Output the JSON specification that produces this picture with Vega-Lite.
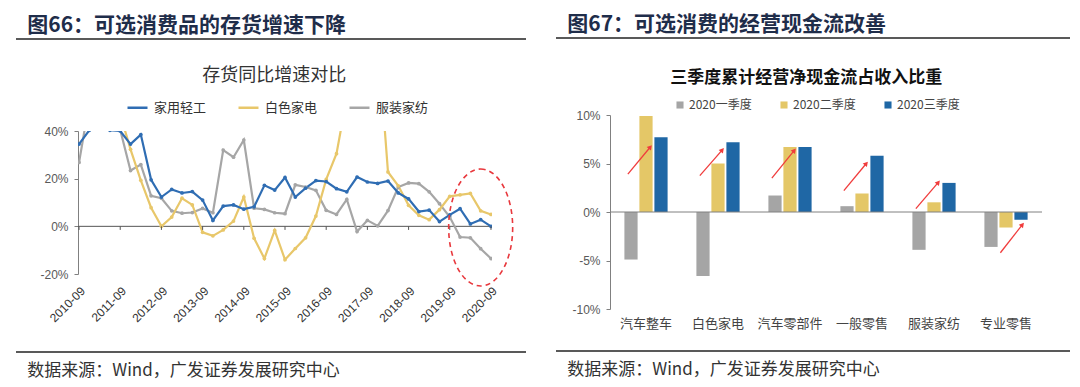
{
  "$schema": "https://vega.github.io/schema/vega-lite/v6.json",
  "background": "white",
  "padding": {"left": 15, "top": 14, "right": 5, "bottom": 0},
  "spacing": 28,
  "resolve": {"scale": {"color": "independent"}, "legend": {"color": "independent"}},
  "config": {
    "view": {"stroke": null},
    "axis": {"labelFont": "Liberation Sans", "labelColor": "#595959", "labelFontSize": 12, "domainColor": "#808080", "tickColor": "#808080", "tickSize": 4, "grid": false},
    "title": {"font": "Noto Sans CJK SC"}
  },
  "hconcat": [
    {
      "spacing": 27,
      "resolve": {"scale": {"color": "independent"}, "legend": {"color": "independent"}},
      "vconcat": [
        {
          "width": 510, "height": 1,
          "title": {"text": "图66：可选消费品的存货增速下降", "anchor": "start", "fontSize": 21, "fontWeight": "bold", "color": "#1f2d4a", "dx": 12, "offset": 2},
          "data": {"values": [{}]},
          "mark": {"type": "rule", "color": "#222", "strokeWidth": 1.5},
          "encoding": {"y": {"datum": 0, "type": "quantitative", "scale": {"domain": [0, 1]}, "axis": null}}
        },
        {
          "spacing": 0,
          "resolve": {"scale": {"color": "independent"}, "legend": {"color": "independent"}},
          "hconcat": [
            {
              "width": 16, "height": 1,
              "data": {"values": []},
              "mark": {"type": "point"},
              "encoding": {}
            },
            {
              "width": 414, "height": 143,
              "title": {"text": "存货同比增速对比", "fontSize": 18, "fontWeight": "normal", "color": "#333", "anchor": "middle", "frame": "bounds", "offset": 11},
              "data": {"values": [
                {"d": "2010-09", "家用轻工": 34.5, "白色家电": 60, "服装家纺": 26.8},
                {"d": "2010-12", "家用轻工": 40.3, "白色家电": 65, "服装家纺": 52},
                {"d": "2011-03", "家用轻工": 48, "白色家电": 62, "服装家纺": 55},
                {"d": "2011-06", "家用轻工": 40.3, "白色家电": 55, "服装家纺": 50},
                {"d": "2011-09", "家用轻工": 40, "白色家电": 47, "服装家纺": 40.5},
                {"d": "2011-12", "家用轻工": 34.5, "白色家电": 32.3, "服装家纺": 23.4},
                {"d": "2012-03", "家用轻工": 38.5, "白色家电": 19.3, "服装家纺": 25.9},
                {"d": "2012-06", "家用轻工": 19.5, "白色家电": 7.8, "服装家纺": 12.8},
                {"d": "2012-09", "家用轻工": 12.3, "白色家电": 0, "服装家纺": 11.8},
                {"d": "2012-12", "家用轻工": 15.5, "白色家电": 3.9, "服装家纺": 6.5},
                {"d": "2013-03", "家用轻工": 14, "白色家电": 11.8, "服装家纺": 5.5},
                {"d": "2013-06", "家用轻工": 14.6, "白色家电": 9, "服装家纺": 5.8},
                {"d": "2013-09", "家用轻工": 11, "白色家电": -2.5, "服装家纺": 7.5},
                {"d": "2013-12", "家用轻工": 2.5, "白色家电": -4, "服装家纺": 5.7},
                {"d": "2014-03", "家用轻工": 8.5, "白色家电": -1.5, "服装家纺": 32},
                {"d": "2014-06", "家用轻工": 9, "白色家电": 2.2, "服装家纺": 29},
                {"d": "2014-09", "家用轻工": 7.2, "白色家电": 12.3, "服装家纺": 36.2},
                {"d": "2014-12", "家用轻工": 8.2, "白色家电": -5, "服装家纺": 7.6},
                {"d": "2015-03", "家用轻工": 17.2, "白色家电": -13.5, "服装家纺": 7.1},
                {"d": "2015-06", "家用轻工": 15.2, "白色家电": -1.7, "服装家纺": 5.7},
                {"d": "2015-09", "家用轻工": 20.5, "白色家电": -14, "服装家纺": 5.3},
                {"d": "2015-12", "家用轻工": 12.3, "白色家电": -9.3, "服装家纺": 17.4},
                {"d": "2016-03", "家用轻工": 16, "白色家电": -4.8, "服装家纺": 16.5},
                {"d": "2016-06", "家用轻工": 19.2, "白色家电": 4.3, "服装家纺": 15.1},
                {"d": "2016-09", "家用轻工": 18.8, "白色家电": 19.7, "服装家纺": 6.7},
                {"d": "2016-12", "家用轻工": 15.8, "白色家电": 30.5, "服装家纺": 5},
                {"d": "2017-03", "家用轻工": 14.5, "白色家电": 54, "服装家纺": 11.3},
                {"d": "2017-06", "家用轻工": 20.7, "白色家电": 90, "服装家纺": -2.2},
                {"d": "2017-09", "家用轻工": 18.6, "白色家电": 100, "服装家纺": 2.5},
                {"d": "2017-12", "家用轻工": 18, "白色家电": 80, "服装家纺": 0.2},
                {"d": "2018-03", "家用轻工": 19, "白色家电": 22.8, "服装家纺": 6.6},
                {"d": "2018-06", "家用轻工": 14, "白色家电": 17, "服装家纺": 16.5},
                {"d": "2018-09", "家用轻工": 11.5, "白色家电": 8.8, "服装家纺": 18.2},
                {"d": "2018-12", "家用轻工": 6.2, "白色家电": 4.6, "服装家纺": 17.9},
                {"d": "2019-03", "家用轻工": 6.8, "白色家电": 2.8, "服装家纺": 14.5},
                {"d": "2019-06", "家用轻工": 2, "白色家电": 7, "服装家纺": 9.5},
                {"d": "2019-09", "家用轻工": 4.8, "白色家电": 12.6, "服装家纺": 3.9},
                {"d": "2019-12", "家用轻工": 7.4, "白色家电": 13.2, "服装家纺": -4.5},
                {"d": "2020-03", "家用轻工": 1, "白色家电": 13.8, "服装家纺": -4.8},
                {"d": "2020-06", "家用轻工": 2.8, "白色家电": 6.5, "服装家纺": -9.4},
                {"d": "2020-09", "家用轻工": 0, "白色家电": 5, "服装家纺": -13.5}
              ]},
              "transform": [{"fold": ["服装家纺", "白色家电", "家用轻工"], "as": ["s", "v"]}],
              "layer": [
                {
                  "data": {"values": [{}]},
                  "mark": {"type": "rule", "color": "#555", "strokeWidth": 1},
                  "encoding": {"y": {"datum": 0, "type": "quantitative"}}
                },
                {
                  "mark": {"type": "line", "clip": true, "strokeWidth": 2.2},
                  "encoding": {
                    "x": {"field": "d", "type": "ordinal", "sort": null, "scale": {"type": "point", "padding": 0.1},
                          "axis": {"title": null, "values": ["2010-09", "2011-09", "2012-09", "2013-09", "2014-09", "2015-09", "2016-09", "2017-09", "2018-09", "2019-09", "2020-09"], "labelAngle": -45, "labelColor": "#333", "labelFontSize": 12, "domain": false, "ticks": false, "labelPadding": 11}},
                    "y": {"field": "v", "type": "quantitative", "scale": {"domain": [-20, 40], "nice": false},
                          "axis": {"title": null, "values": [-20, -10, 0, 10, 20, 30, 40], "labelExpr": "datum.value + '%'", "labelPadding": 6, "minExtent": 45.5, "maxExtent": 45.5}},
                    "color": {"field": "s", "type": "nominal",
                              "scale": {"domain": ["家用轻工", "白色家电", "服装家纺"], "range": ["#2f6db3", "#e8c76a", "#a6a6a6"]},
                              "legend": {"title": null, "orient": "none", "legendX": 48, "legendY": -35, "direction": "horizontal", "symbolType": "stroke", "symbolSize": 400, "symbolStrokeWidth": 2.5, "labelFont": "Noto Sans CJK SC", "labelFontSize": 13, "labelColor": "#333", "columnPadding": 26, "labelOffset": 5}}
                  }
                },
                {
                  "mark": {"type": "point", "clip": true, "filled": true, "size": 14, "opacity": 1},
                  "encoding": {
                    "x": {"field": "d", "type": "ordinal", "sort": null},
                    "y": {"field": "v", "type": "quantitative"},
                    "color": {"field": "s", "type": "nominal"}
                  }
                },
                {
                  "transform": [{"filter": "indexof(datum.d, '-09') > 0 && datum.s == '家用轻工'"}],
                  "mark": {"type": "rule", "color": "#555", "strokeWidth": 1},
                  "encoding": {
                    "x": {"field": "d", "type": "ordinal", "sort": null},
                    "y": {"datum": 0, "type": "quantitative"},
                    "y2": {"datum": -1.5}
                  }
                },
                {
                  "data": {"values": [{}]},
                  "mark": {"type": "point", "shape": "M0,-2C0.604,-2,1.094,-1.104,1.094,0C1.094,1.104,0.604,2,0,2C-0.604,2,-1.094,1.104,-1.094,0C-1.094,-1.104,-0.604,-2,0,-2Z", "size": 3422, "filled": false, "fill": null, "stroke": "#e8383d", "strokeWidth": 1.6, "strokeDash": [5, 4], "opacity": 1},
                  "encoding": {"x": {"datum": "2020-06", "type": "ordinal"}, "y": {"datum": -0.5, "type": "quantitative"}}
                }
              ]
            }
          ]
        },
        {
          "width": 510, "height": 1,
          "title": {"text": "数据来源：Wind，广发证券发展研究中心", "orient": "bottom", "anchor": "start", "fontSize": 17, "fontWeight": "normal", "color": "#333", "dx": 12, "offset": 10},
          "data": {"values": [{}]},
          "mark": {"type": "rule", "color": "#222", "strokeWidth": 1.5},
          "encoding": {"y": {"datum": 1, "type": "quantitative", "scale": {"domain": [0, 1]}, "axis": null}}
        }
      ]
    },
    {
      "spacing": 20,
      "resolve": {"scale": {"color": "independent"}, "legend": {"color": "independent"}},
      "vconcat": [
        {
          "width": 514, "height": 11,
          "title": {"text": "图67：可选消费的经营现金流改善", "anchor": "start", "fontSize": 21, "fontWeight": "bold", "color": "#1f2d4a", "dx": 12, "offset": 2},
          "data": {"values": [{}]},
          "mark": {"type": "rule", "color": "#222", "strokeWidth": 1.5},
          "encoding": {"y": {"datum": 1, "type": "quantitative", "scale": {"domain": [0, 1]}, "axis": null}}
        },
        {
          "spacing": 0,
          "resolve": {"scale": {"color": "independent"}, "legend": {"color": "independent"}},
          "hconcat": [
            {
              "width": 14, "height": 1,
              "data": {"values": []},
              "mark": {"type": "point"},
              "encoding": {}
            },
            {
              "width": 432, "height": 194,
              "title": {"text": "三季度累计经营净现金流占收入比重", "fontSize": 17, "fontWeight": "bold", "color": "#111", "anchor": "middle", "frame": "bounds", "offset": 12},
              "data": {"values": [
                {"cat": "汽车整车", "2020一季度": -4.9, "2020二季度": 9.9, "2020三季度": 7.7, "a0": 3.9, "a1": 6.7},
                {"cat": "白色家电", "2020一季度": -6.6, "2020二季度": 5.0, "2020三季度": 7.2, "a0": 3.75, "a1": 6.4},
                {"cat": "汽车零部件", "2020一季度": 1.7, "2020二季度": 6.7, "2020三季度": 6.7, "a0": 3.5, "a1": 6.35},
                {"cat": "一般零售", "2020一季度": 0.6, "2020二季度": 1.9, "2020三季度": 5.8, "a0": 2.2, "a1": 5.0},
                {"cat": "服装家纺", "2020一季度": -3.9, "2020二季度": 1.0, "2020三季度": 3.0, "a0": 0.35, "a1": 3.05},
                {"cat": "专业零售", "2020一季度": -3.6, "2020二季度": -1.6, "2020三季度": -0.8, "a0": -4.2, "a1": -1.3}
              ]},
              "layer": [
                {
                  "transform": [{"fold": ["2020一季度", "2020二季度", "2020三季度"], "as": ["q", "v"]}],
                  "mark": {"type": "bar"},
                  "encoding": {
                    "x": {"field": "cat", "type": "nominal", "sort": null, "scale": {"paddingInner": 0.4, "paddingOuter": 0.2},
                          "axis": {"title": null, "labelAngle": 0, "domain": false, "ticks": false, "labelFont": "Noto Sans CJK SC", "labelFontSize": 13, "labelColor": "#444", "labelPadding": 8}},
                    "xOffset": {"field": "q", "type": "nominal", "sort": null, "scale": {"paddingInner": 0.12}},
                    "y": {"field": "v", "type": "quantitative", "scale": {"domain": [-10, 10], "nice": false},
                          "axis": {"title": null, "values": [-10, -5, 0, 5, 10], "labelExpr": "datum.value + '%'", "labelPadding": 6, "minExtent": 40, "maxExtent": 40}},
                    "color": {"field": "q", "type": "nominal", "sort": null,
                              "scale": {"domain": ["2020一季度", "2020二季度", "2020三季度"], "range": ["#a5a5a5", "#e4c767", "#1f67a5"]},
                              "legend": {"title": null, "orient": "none", "legendX": 64, "legendY": -16, "direction": "horizontal", "symbolType": "square", "symbolSize": 50, "labelFont": "Noto Sans CJK SC", "labelFontSize": 12, "labelColor": "#444", "columnPadding": 26, "labelOffset": 3}}
                  }
                },
                {
                  "data": {"values": [{}]},
                  "mark": {"type": "rule", "color": "#808080", "strokeWidth": 1},
                  "encoding": {"y": {"datum": 0, "type": "quantitative"}}
                },
                {
                  "transform": [{"filter": "datum.cat != '专业零售'"}],
                  "mark": {"type": "rule", "color": "#f03c3c", "strokeWidth": 1.3},
                  "encoding": {
                    "x": {"field": "cat", "type": "nominal", "sort": null, "bandPosition": 0.08},
                    "x2": {"field": "cat", "bandPosition": 0.6},
                    "y": {"field": "a0", "type": "quantitative"},
                    "y2": {"field": "a1"}
                  }
                },
                {
                  "transform": [{"filter": "datum.cat != '专业零售'"}],
                  "mark": {"type": "point", "shape": "triangle-up", "angle": 40, "filled": true, "color": "#f03c3c", "size": 30, "opacity": 1},
                  "encoding": {
                    "x": {"field": "cat", "type": "nominal", "sort": null, "bandPosition": 0.6},
                    "y": {"field": "a1", "type": "quantitative"}
                  }
                },
                {
                  "transform": [{"filter": "datum.cat == '专业零售'"}],
                  "mark": {"type": "rule", "color": "#f03c3c", "strokeWidth": 1.3},
                  "encoding": {
                    "x": {"field": "cat", "type": "nominal", "sort": null, "bandPosition": 0.37},
                    "x2": {"field": "cat", "bandPosition": 0.88},
                    "y": {"field": "a0", "type": "quantitative"},
                    "y2": {"field": "a1"}
                  }
                },
                {
                  "transform": [{"filter": "datum.cat == '专业零售'"}],
                  "mark": {"type": "point", "shape": "triangle-up", "angle": 40, "filled": true, "color": "#f03c3c", "size": 30, "opacity": 1},
                  "encoding": {
                    "x": {"field": "cat", "type": "nominal", "sort": null, "bandPosition": 0.88},
                    "y": {"field": "a1", "type": "quantitative"}
                  }
                }
              ]
            }
          ]
        },
        {
          "width": 514, "height": 1,
          "title": {"text": "数据来源：Wind，广发证券发展研究中心", "orient": "bottom", "anchor": "start", "fontSize": 17, "fontWeight": "normal", "color": "#333", "dx": 12, "offset": 10},
          "data": {"values": [{}]},
          "mark": {"type": "rule", "color": "#222", "strokeWidth": 1.5},
          "encoding": {"y": {"datum": 1, "type": "quantitative", "scale": {"domain": [0, 1]}, "axis": null}}
        }
      ]
    }
  ]
}
